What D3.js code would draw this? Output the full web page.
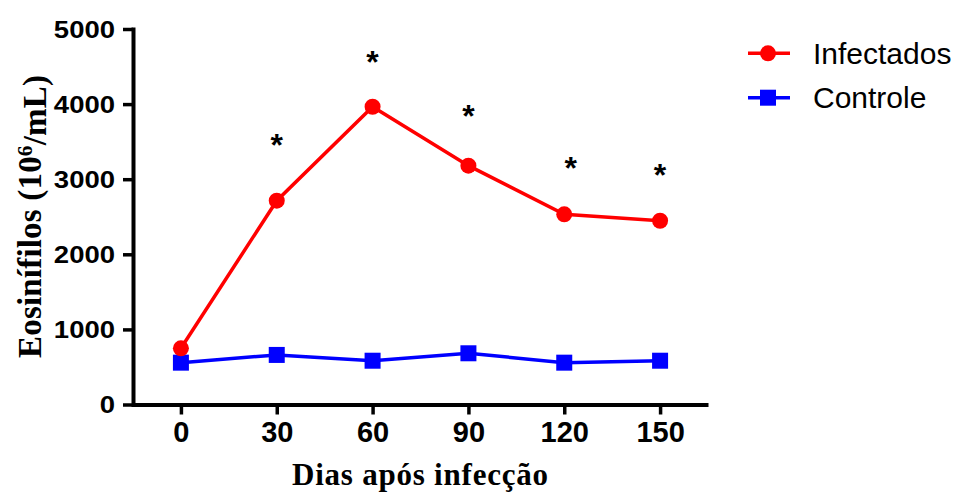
<!DOCTYPE html>
<html>
<head>
<meta charset="utf-8">
<script src="https://cdn.jsdelivr.net/npm/d3@7/dist/d3.min.js"></script>
<style>
  html, body { margin: 0; padding: 0; background: #fff; }
  svg { display: block; }
</style>
</head>
<body>
<svg id="chart" width="963" height="493"></svg>
<script>
// ---- data ----
const days = [0, 30, 60, 90, 120, 150];
const infectados = [748, 2714, 3965, 3180, 2532, 2447];
const controle = [557, 660, 583, 682, 557, 583];
const starDays = [30, 60, 90, 122, 150];
const starLevels = [3500, 4609, 3886, 3189, 3100];
const yTicks = [0, 1000, 2000, 3000, 4000, 5000];
const xTicks = [0, 30, 60, 90, 120, 150];
const seriesNames = ["Infectados", "Controle"];
const xTitle = "Dias após infecção";

// ---- layout ----
const svg = d3.select("#chart");
svg.append("rect").attr("width", 963).attr("height", 493).attr("fill", "#fff");

const x = d3.scaleLinear().domain([-15, 165]).range([133, 708]);
const y = d3.scaleLinear().domain([0, 5000]).range([404.5, 29]);

const RED = "#ff0000", BLUE = "#0000ff";
const sans = "Arial, 'Liberation Sans', sans-serif";
const serif = "'Times New Roman', 'Liberation Serif', serif";

// Y axis
const gy = svg.append("g").attr("transform", "translate(133,0)")
  .call(d3.axisLeft(y).tickValues(yTicks).tickSize(10).tickSizeOuter(0).tickFormat(d3.format("d")));
gy.select(".domain").attr("stroke", "#000").attr("stroke-width", 4).attr("stroke-linecap", "square");
gy.selectAll(".tick line").attr("stroke", "#000").attr("stroke-width", 3.5);
gy.selectAll(".tick text")
  .attr("x", 0).attr("dy", "0.36em")
  .attr("transform", "translate(-18,0) scale(1.17,1)")
  .attr("font-family", sans).attr("font-weight", "bold").attr("font-size", 23.5)
  .attr("text-anchor", "end").attr("fill", "#000");

// X axis
const gx = svg.append("g").attr("transform", "translate(0,404.5)")
  .call(d3.axisBottom(x).tickValues(xTicks).tickSize(10).tickSizeOuter(0));
gx.select(".domain").attr("stroke", "#000").attr("stroke-width", 4);
gx.selectAll(".tick line").attr("stroke", "#000").attr("stroke-width", 3.5);
gx.selectAll(".tick text")
  .attr("y", 37.5).attr("dy", 0)
  .attr("font-family", sans).attr("font-weight", "bold").attr("font-size", 29)
  .attr("fill", "#000");
svg.selectAll(".domain").attr("fill", "none");

// Axis titles
svg.append("text")
  .attr("x", 420).attr("y", 485)
  .attr("text-anchor", "middle")
  .attr("font-family", serif).attr("font-weight", "bold").attr("font-size", 31)
  .attr("textLength", 256).attr("lengthAdjust", "spacing")
  .text(xTitle);

const yt = svg.append("text")
  .attr("transform", "translate(41,216.5) rotate(-90)")
  .attr("text-anchor", "middle")
  .attr("font-family", serif).attr("font-weight", "bold").attr("font-size", 33)
  .attr("textLength", 283).attr("lengthAdjust", "spacing");
yt.append("tspan").text("Eosinífilos (10");
yt.append("tspan").attr("dy", "-0.42em").attr("font-size", "0.65em").text("6");
yt.append("tspan").attr("dy", "0.42em").text("/mL)");

// Lines
const line = d3.line().x((d, i) => x(days[i])).y(d => y(d));
svg.append("path").datum(controle).attr("d", line)
  .attr("fill", "none").attr("stroke", BLUE).attr("stroke-width", 3.5);
svg.append("path").datum(infectados).attr("d", line)
  .attr("fill", "none").attr("stroke", RED).attr("stroke-width", 3.5);

// Markers
svg.append("g").selectAll("rect").data(controle).join("rect")
  .attr("x", (d, i) => x(days[i]) - 8).attr("y", d => y(d) - 8)
  .attr("width", 16).attr("height", 16).attr("fill", BLUE);
svg.append("g").selectAll("circle").data(infectados).join("circle")
  .attr("cx", (d, i) => x(days[i])).attr("cy", d => y(d)).attr("r", 8).attr("fill", RED);

// Significance asterisks
svg.append("g").selectAll("text").data(starLevels).join("text")
  .attr("x", (d, i) => x(starDays[i])).attr("y", d => y(d))
  .attr("dy", "0.45em").attr("text-anchor", "middle")
  .attr("font-family", sans).attr("font-weight", "bold").attr("font-size", 32)
  .attr("fill", "#000").text("*");

// Legend
const legend = svg.append("g");
const legY = [53.3, 97.7];
const legColors = [RED, BLUE];
seriesNames.forEach((name, i) => {
  const g = legend.append("g").attr("transform", `translate(0,${legY[i]})`);
  g.append("line").attr("x1", 748).attr("x2", 790).attr("y1", 0).attr("y2", 0)
    .attr("stroke", legColors[i]).attr("stroke-width", 3.5);
  if (i === 0) g.append("circle").attr("cx", 768).attr("cy", 0).attr("r", 8).attr("fill", RED);
  else g.append("rect").attr("x", 760).attr("y", -8).attr("width", 16).attr("height", 16).attr("fill", BLUE);
  g.append("text").attr("x", 813).attr("y", 10.5)
    .attr("font-family", sans).attr("font-size", 30).attr("fill", "#000").text(name);
});
</script>
</body>
</html>
